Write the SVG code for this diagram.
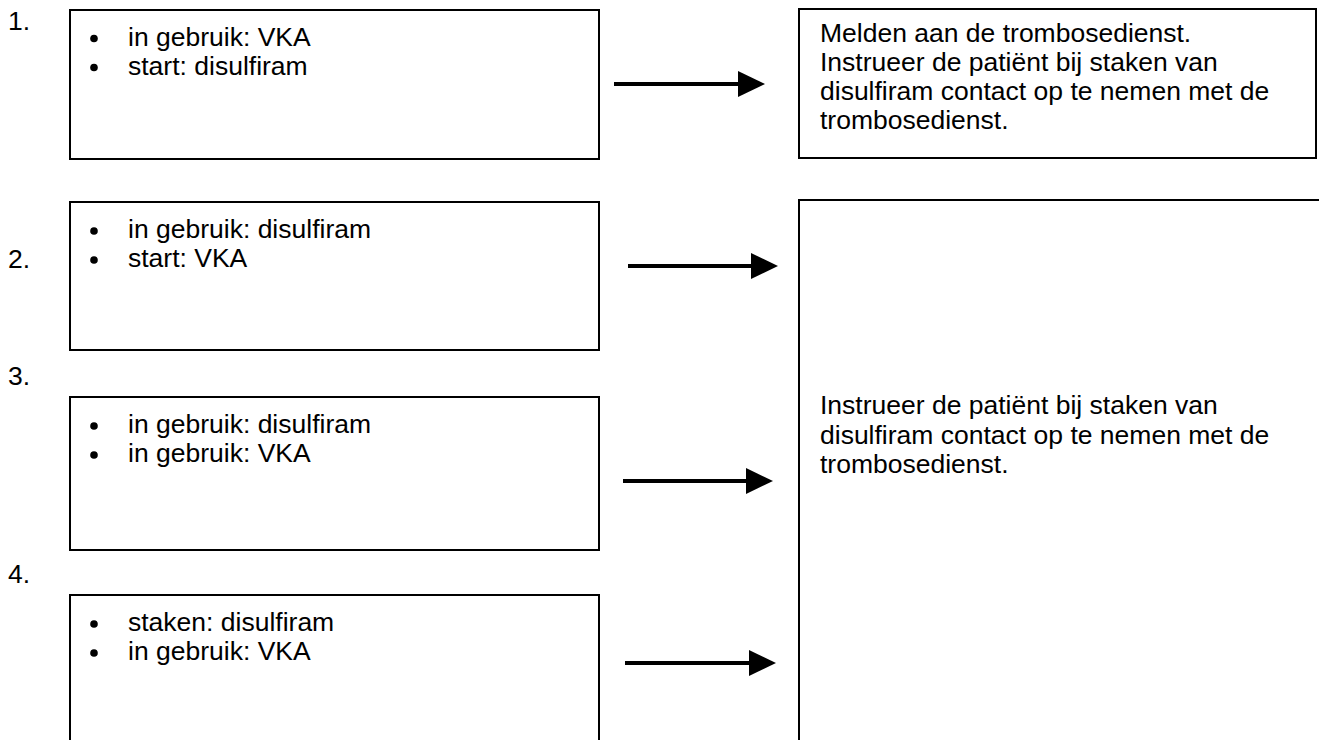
<svg xmlns="http://www.w3.org/2000/svg" width="1319" height="740" viewBox="0 0 1319 740">
<style>
  .box{fill:#fff;stroke:#000;stroke-width:2}
  .t{font-family:"Liberation Sans",Arial,sans-serif;font-size:26.5px;fill:#000}
  .bul{fill:#000}
  .conn{stroke:#000;stroke-width:4;fill:none}
</style>
<defs>
  <marker id="ah" markerUnits="userSpaceOnUse" markerWidth="27" markerHeight="26" viewBox="0 0 27 26" refX="0" refY="13" orient="auto">
    <path d="M0,0 L27,13 L0,26 Z" fill="#000"/>
  </marker>
</defs>
<rect width="1319" height="740" fill="#fff"/>

<g id="n1">
  <text class="t" x="8" y="30">1.</text>
  <rect class="box" x="70" y="10" width="529" height="149"/>
  <circle class="bul" cx="94" cy="38.5" r="3.8"/>
  <text class="t" x="128" y="46">in gebruik: VKA</text>
  <circle class="bul" cx="94" cy="67.5" r="3.8"/>
  <text class="t" x="128" y="75">start: disulfiram</text>
</g>

<g id="n2">
  <text class="t" x="8" y="268">2.</text>
  <rect class="box" x="70" y="202" width="529" height="148"/>
  <circle class="bul" cx="94" cy="231" r="3.8"/>
  <text class="t" x="128" y="238">in gebruik: disulfiram</text>
  <circle class="bul" cx="94" cy="260" r="3.8"/>
  <text class="t" x="128" y="267">start: VKA</text>
</g>

<g id="n3">
  <text class="t" x="8" y="385">3.</text>
  <rect class="box" x="70" y="397" width="529" height="153"/>
  <circle class="bul" cx="94" cy="426" r="3.8"/>
  <text class="t" x="128" y="433">in gebruik: disulfiram</text>
  <circle class="bul" cx="94" cy="455" r="3.8"/>
  <text class="t" x="128" y="462">in gebruik: VKA</text>
</g>

<g id="n4">
  <text class="t" x="8" y="583">4.</text>
  <rect class="box" x="70" y="595" width="529" height="160"/>
  <circle class="bul" cx="94" cy="624" r="3.8"/>
  <text class="t" x="128" y="631">staken: disulfiram</text>
  <circle class="bul" cx="94" cy="653" r="3.8"/>
  <text class="t" x="128" y="660">in gebruik: VKA</text>
</g>

<g id="r1">
  <rect class="box" x="799" y="9" width="517" height="149"/>
  <text class="t" x="820" y="42">Melden aan de trombosedienst.</text>
  <text class="t" x="820" y="71">Instrueer de patiënt bij staken van</text>
  <text class="t" x="820" y="100">disulfiram contact op te nemen met de</text>
  <text class="t" x="820" y="129">trombosedienst.</text>
</g>

<g id="r2">
  <rect class="box" x="799" y="200" width="530" height="560"/>
  <text class="t" x="820" y="414">Instrueer de patiënt bij staken van</text>
  <text class="t" x="820" y="443.5">disulfiram contact op te nemen met de</text>
  <text class="t" x="820" y="473">trombosedienst.</text>
</g>

<g id="connectors">
  <line class="conn" x1="614" y1="84" x2="738" y2="84" marker-end="url(#ah)"/>
  <line class="conn" x1="628" y1="266" x2="751" y2="266" marker-end="url(#ah)"/>
  <line class="conn" x1="623" y1="481" x2="746" y2="481" marker-end="url(#ah)"/>
  <line class="conn" x1="625" y1="663" x2="749" y2="663" marker-end="url(#ah)"/>
</g>
</svg>
